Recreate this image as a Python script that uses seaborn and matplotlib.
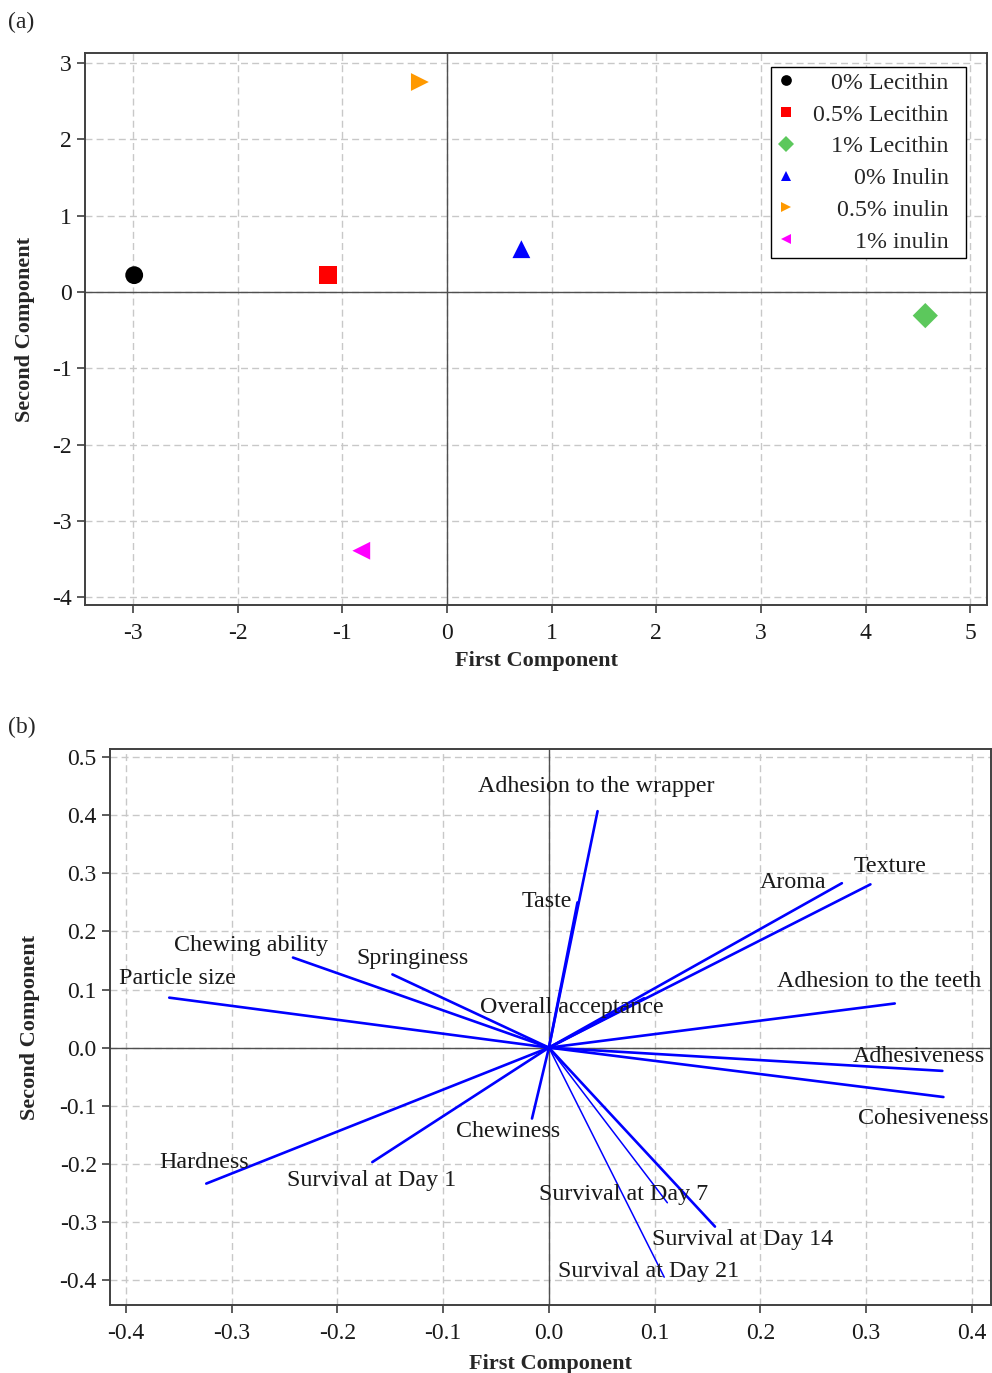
import numpy as np
import pandas as pd
import seaborn as sns
import matplotlib.pyplot as plt

# ---- panel (a): PCA scores ----
groups = ['0% Lecithin', '0.5% Lecithin', '1% Lecithin', '0% Inulin', '0.5% inulin', '1% inulin']
pc1_scores = [-2.99, -1.14, 4.57, 0.71, -0.26, -0.82]
pc2_scores = [0.22, 0.22, -0.31, 0.56, 2.75, -3.39]
group_colors = ['black', 'red', '#5cc85c', 'blue', '#ff9900', '#ff00ff']
group_markers = ['o', 's', 'D', '^', '>', '<']

# ---- panel (b): PCA loadings ----
variables = ['Adhesion to the wrapper', 'Taste', 'Aroma', 'Texture', 'Adhesion to the teeth',
             'Overall acceptance', 'Particle size', 'Chewing ability', 'Springiness', 'Hardness',
             'Survival at Day 1', 'Chewiness', 'Adhesiveness', 'Cohesiveness',
             'Survival at Day 7', 'Survival at Day 14', 'Survival at Day 21']
pc1_load = [0.046, 0.027, 0.277, 0.304, 0.327, 0.090, -0.359, -0.242, -0.148, -0.324,
            -0.167, -0.016, 0.372, 0.373, 0.112, 0.157, 0.109]
pc2_load = [0.407, 0.250, 0.283, 0.281, 0.076, 0.085, 0.086, 0.155, 0.126, -0.234,
            -0.197, -0.122, -0.040, -0.085, -0.267, -0.308, -0.395]
label_x = [0.045, -0.002, 0.231, 0.323, 0.312, 0.022, -0.351, -0.282, -0.129, -0.326,
           -0.168, -0.039, 0.350, 0.354, 0.071, 0.183, 0.094]
label_y = [0.450, 0.252, 0.284, 0.312, 0.114, 0.069, 0.119, 0.176, 0.153, -0.197,
           -0.229, -0.145, -0.016, -0.122, -0.252, -0.331, -0.386]
thin_vars = ['Survival at Day 7', 'Survival at Day 21']

sns.set_style('white')
plt.rcParams['font.family'] = ['Liberation Serif', 'DejaVu Serif']
plt.rcParams['axes.unicode_minus'] = False

fig = plt.figure(figsize=(9.92, 13.73), dpi=100)
ax1 = fig.add_axes([0.0857, 0.5594, 0.9093, 0.402])
ax2 = fig.add_axes([0.1109, 0.0495, 0.8881, 0.405])

grid_kw = dict(color='#c8c8c8', linestyle=(0, (5, 3)), linewidth=1.0)
spine_c = '#404040'

def style_axes(ax):
    ax.grid(True, **grid_kw)
    ax.set_axisbelow(True)
    for s in ax.spines.values():
        s.set_color(spine_c)
        s.set_linewidth(1.4)
        s.set_visible(True)
    ax.tick_params(axis='both', which='major', direction='out', length=6, width=1.2,
                   color=spine_c, labelsize=17, labelcolor='#1a1a1a', left=True, bottom=True)
    ax.tick_params(axis='x', pad=7)
    ax.axhline(0, color='#505050', lw=1.0, zorder=1)
    ax.axvline(0, color='#505050', lw=1.0, zorder=1)

def fmt1(v, pos):
    return '0.0' if abs(v) < 1e-9 else f'{v:.1f}'

# ---- panel (a) ----
df_a = pd.DataFrame({'PC1': pc1_scores, 'PC2': pc2_scores, 'Group': groups})
sns.scatterplot(data=df_a, x='PC1', y='PC2', hue='Group', style='Group',
                palette=dict(zip(groups, group_colors)),
                markers=dict(zip(groups, group_markers)),
                s=165, linewidth=0, ax=ax1, zorder=3)
style_axes(ax1)
ax1.set_xlim(-3.46, 5.16)
ax1.set_ylim(-4.1, 3.13)
ax1.set_xticks(range(-3, 6))
ax1.set_yticks(range(-4, 4))
ax1.set_xlabel('First Component', fontsize=16, fontweight='bold', labelpad=5)
ax1.set_ylabel('Second Component', fontsize=16, fontweight='bold', labelpad=12)

handles, labels = ax1.get_legend_handles_labels()
labels = [l + '\u2002' for l in labels]
leg = ax1.legend(handles, labels, loc='upper right', bbox_to_anchor=(0.9767, 0.975),
                 borderaxespad=0, fontsize=17.2, markerscale=0.6, frameon=True,
                 fancybox=False, edgecolor='black', framealpha=1, handletextpad=0.75,
                 labelspacing=0.42, borderpad=0.22, handlelength=0.8)
leg.get_frame().set_linewidth(1.0)
fig.canvas.draw()
renderer = fig.canvas.get_renderer()
widths = [t.get_window_extent(renderer).width for t in leg.get_texts()]
wmax = max(widths)
for t, w in zip(leg.get_texts(), widths):
    t.set_position((wmax - w, 0))

# ---- panel (b) ----
rows = []
for v, x, y in zip(variables, pc1_load, pc2_load):
    rows.append({'var': v, 'PC1': 0.0, 'PC2': 0.0})
    rows.append({'var': v, 'PC1': x, 'PC2': y})
df_b = pd.DataFrame(rows)
thick = df_b[~df_b['var'].isin(thin_vars)]
thin = df_b[df_b['var'].isin(thin_vars)]
sns.lineplot(data=thick, x='PC1', y='PC2', units='var', estimator=None, sort=False,
             color='blue', lw=1.9, ax=ax2, zorder=3)
sns.lineplot(data=thin, x='PC1', y='PC2', units='var', estimator=None, sort=False,
             color='blue', lw=1.1, ax=ax2, zorder=3)
style_axes(ax2)
for v, lx, ly in zip(variables, label_x, label_y):
    ax2.text(lx, ly, v, fontsize=17.3, ha='center', va='center', color='#1a1a1a', zorder=4)
ax2.set_xlim(-0.415, 0.418)
ax2.set_ylim(-0.443, 0.514)
ax2.set_xticks(np.round(np.arange(-0.4, 0.41, 0.1), 1))
ax2.set_yticks(np.round(np.arange(-0.4, 0.51, 0.1), 1))
ax2.xaxis.set_major_formatter(plt.FuncFormatter(fmt1))
ax2.yaxis.set_major_formatter(plt.FuncFormatter(fmt1))
ax2.set_xlabel('First Component', fontsize=16, fontweight='bold', labelpad=7)
ax2.set_ylabel('Second Component', fontsize=16, fontweight='bold', labelpad=14)

fig.text(0.008, 0.984, '(a)', fontsize=17, va='center', ha='left')
fig.text(0.008, 0.470, '(b)', fontsize=17, va='center', ha='left')

fig.savefig('out.png', dpi=100)
